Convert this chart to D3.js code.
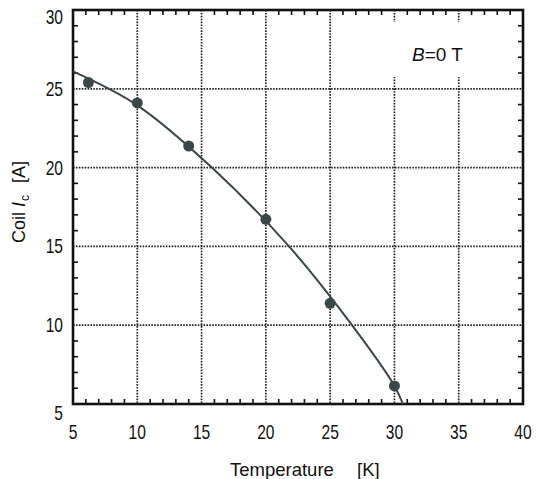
<!DOCTYPE html>
<html><head><meta charset="utf-8">
<script src="https://cdn.jsdelivr.net/npm/d3@7"></script>
<style>body{margin:0;background:#fff}</style>
</head><body>
<svg id="c" width="536" height="479"></svg>
<script>
// Measured points
const tempPts = [6.2, 10, 14, 20, 25, 30];
const icPts = [25.4, 24.1, 21.37, 16.72, 11.39, 6.15];
// Fitted curve
const curveT = [5, 10, 15.8, 21.8, 26.7, 30, 30.66];
const curveIc = [26.1, 23.95, 20, 15, 10, 6.15, 5];
const xTicks = [5, 10, 15, 20, 25, 30, 35, 40];
const yTicks = [5, 10, 15, 20, 25, 30];

const L = 73, R = 523, T = 10, B = 404;
const x = d3.scaleLinear().domain([5, 40]).range([L, R]);
const y = d3.scaleLinear().domain([5, 30]).range([B, T]);
const svg = d3.select("#c");
const font = "'Liberation Sans',Arial,sans-serif";

// grid
const g = svg.append("g");
g.selectAll(".gx").data(xTicks.slice(1, -1)).join("line")
  .attr("x1", d => x(d)).attr("x2", d => x(d)).attr("y1", T).attr("y2", B)
  .attr("stroke", "#222").attr("stroke-width", 1.7).attr("stroke-dasharray", "1.6,1.3");
g.selectAll(".gy").data(yTicks.slice(1, -1)).join("line")
  .attr("y1", d => y(d)).attr("y2", d => y(d)).attr("x1", L).attr("x2", R)
  .attr("stroke", "#222").attr("stroke-width", 1.7).attr("stroke-dasharray", "1.6,1.3");

// annotation background box (hides grid behind the label)
svg.append("rect").attr("x", 388).attr("y", 22).attr("width", 132).attr("height", 55).attr("fill", "#fff");

// minor ticks inward
const xMinor = d3.range(6, 40).filter(v => v % 5 !== 0);
const yMinor = d3.range(6, 30).filter(v => v % 5 !== 0);
const tk = 5;
svg.append("g").selectAll("line").data(xMinor).join("line")
  .attr("x1", d => x(d)).attr("x2", d => x(d)).attr("y1", B).attr("y2", B - tk)
  .attr("stroke", "#111").attr("stroke-width", 1.6);
svg.append("g").selectAll("line").data(xMinor).join("line")
  .attr("x1", d => x(d)).attr("x2", d => x(d)).attr("y1", T).attr("y2", T + tk)
  .attr("stroke", "#111").attr("stroke-width", 1.6);
svg.append("g").selectAll("line").data(yMinor).join("line")
  .attr("y1", d => y(d)).attr("y2", d => y(d)).attr("x1", L).attr("x2", L + tk)
  .attr("stroke", "#111").attr("stroke-width", 1.6);
svg.append("g").selectAll("line").data(yMinor).join("line")
  .attr("y1", d => y(d)).attr("y2", d => y(d)).attr("x1", R).attr("x2", R - tk)
  .attr("stroke", "#111").attr("stroke-width", 1.6);

// frame
svg.append("rect").attr("x", L).attr("y", T).attr("width", R - L).attr("height", B - T)
  .attr("fill", "none").attr("stroke", "#111").attr("stroke-width", 2.6);

// curve
const line = d3.line().x((d, i) => x(curveT[i])).y((d, i) => y(curveIc[i])).curve(d3.curveCatmullRom.alpha(0.5));
svg.append("path").attr("d", line(curveT)).attr("fill", "none")
  .attr("stroke", "#3b4646").attr("stroke-width", 2);

// points
svg.append("g").selectAll("circle").data(tempPts).join("circle")
  .attr("cx", d => x(d)).attr("cy", (d, i) => y(icPts[i])).attr("r", 5.5)
  .attr("fill", "#3c4848");

// tick labels (condensed)
svg.append("g").selectAll("text").data(xTicks).join("text")
  .attr("transform", d => `translate(${x(d)},439) scale(0.78,1)`).attr("text-anchor", "middle")
  .attr("font-family", font).attr("font-size", 20).attr("fill", "#111").text(d => d);
svg.append("g").selectAll("text").data(yTicks).join("text")
  .attr("transform", d => `translate(63,${y(d) + (d === 5 ? 16 : d === 30 ? 14 : 7)}) scale(0.78,1)`)
  .attr("text-anchor", "end")
  .attr("font-family", font).attr("font-size", 20).attr("fill", "#111").text(d => d);

// axis titles
svg.append("text").attr("x", 230).attr("y", 476)
  .attr("font-family", font).attr("font-size", 18.5).attr("fill", "#111").text("Temperature");
svg.append("text").attr("x", 357).attr("y", 476)
  .attr("font-family", font).attr("font-size", 18.5).attr("fill", "#111").text("[K]");
const yt = svg.append("text").attr("transform", "translate(25,243) rotate(-90)")
  .attr("text-anchor", "start").attr("font-family", font)
  .attr("font-size", 18).attr("fill", "#111");
yt.append("tspan").text("Coil ");
yt.append("tspan").attr("font-style", "italic").text("I");
yt.append("tspan").attr("font-size", 12).attr("dy", 4).attr("dx", 1).text("c");
yt.append("tspan").attr("dy", -4).attr("dx", 12).text("[A]");

// annotation
const an = svg.append("text").attr("x", 412).attr("y", 61)
  .attr("font-family", font).attr("font-size", 19).attr("fill", "#111");
an.append("tspan").attr("font-style", "italic").text("B");
an.append("tspan").text("=0 T");
</script>
</body></html>
